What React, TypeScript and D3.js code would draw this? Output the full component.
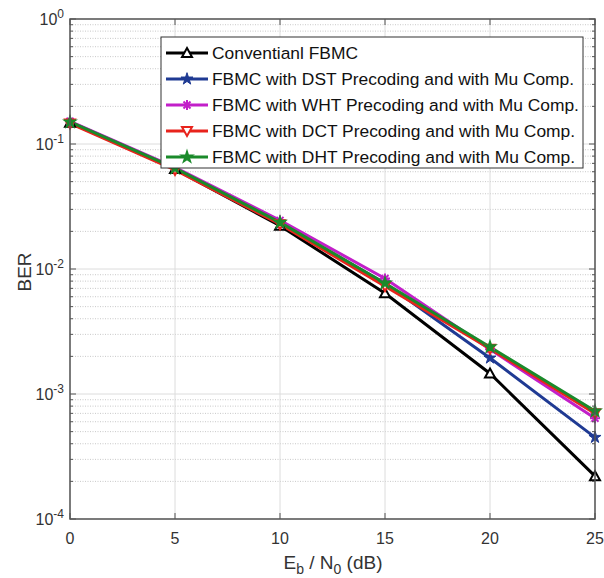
import React from 'react';
import * as d3 from 'd3';

const snr = [0, 5, 10, 15, 20, 25];
const berConv = [0.148, 0.063, 0.0222, 0.0064, 0.00146, 0.00022];
const berDst = [0.15, 0.064, 0.0232, 0.0077, 0.00194, 0.00045];
const berWht = [0.152, 0.065, 0.0245, 0.0084, 0.00228, 0.00064];
const berDct = [0.146, 0.062, 0.0228, 0.0073, 0.00230, 0.00070];
const berDht = [0.15, 0.064, 0.0236, 0.0077, 0.00238, 0.00073];

const seriesNames = [
  'Conventianl FBMC',
  'FBMC with DST Precoding and with Mu Comp.',
  'FBMC with WHT Precoding and with Mu Comp.',
  'FBMC with DCT Precoding and with Mu Comp.',
  'FBMC with DHT Precoding and with Mu Comp.',
];
const seriesColors = ['#000000', '#1f3a93', '#c21fc9', '#e8231c', '#1a8a2a'];
const seriesMarkers = ['triUp', 'hexagram', 'asterisk', 'triDown', 'star'];
const seriesValues = [berConv, berDst, berWht, berDct, berDht];

const xTicks = [0, 5, 10, 15, 20, 25];
const yDecades = [-4, -3, -2, -1, 0];

const W = 604;
const H = 578;
const left = 70;
const right = 595;
const top = 19;
const bottom = 519;

const Marker = ({ kind, color, x, y }: { kind: string; color: string; x: number; y: number }) => {
  const r = 5;
  if (kind === 'triUp') {
    return <path d={`M${x},${y - r}L${x + r},${y + r * 0.8}L${x - r},${y + r * 0.8}Z`} fill="white" stroke={color} strokeWidth={2} />;
  }
  if (kind === 'triDown') {
    return <path d={`M${x},${y + r}L${x + r},${y - r * 0.8}L${x - r},${y - r * 0.8}Z`} fill="white" stroke={color} strokeWidth={2} />;
  }
  if (kind === 'hexagram') {
    const p = d3.symbol(d3.symbolStar, 45)();
    return <path d={p || ''} transform={`translate(${x},${y})`} fill={color} stroke={color} strokeWidth={1} />;
  }
  if (kind === 'star') {
    const p = d3.symbol(d3.symbolStar, 40)();
    return <path d={p || ''} transform={`translate(${x},${y})`} fill={color} stroke={color} strokeWidth={1.5} />;
  }
  // asterisk
  const a = 5;
  return (
    <g stroke={color} strokeWidth={2}>
      <line x1={x - a} y1={y} x2={x + a} y2={y} />
      <line x1={x} y1={y - a} x2={x} y2={y + a} />
      <line x1={x - a * 0.7} y1={y - a * 0.7} x2={x + a * 0.7} y2={y + a * 0.7} />
      <line x1={x - a * 0.7} y1={y + a * 0.7} x2={x + a * 0.7} y2={y - a * 0.7} />
    </g>
  );
};

export default function App() {
  const x = d3.scaleLinear().domain([0, 25]).range([left, right]);
  const y = d3.scaleLog().domain([1e-4, 1]).range([bottom, top]);
  const line = d3
    .line<number>()
    .x((_, i) => x(snr[i]))
    .y((v) => y(v));

  const minor: number[] = [];
  for (let d = -4; d < 0; d++) {
    for (let m = 2; m <= 9; m++) minor.push(m * Math.pow(10, d));
  }

  const legX = 161;
  const legY = 37;
  const legW = 422;
  const legH = 131;
  const rowH = 26;

  return (
    <svg width={W} height={H} style={{ position: 'absolute', left: 0, top: 0, background: 'white' }} fontFamily="'Liberation Sans', Arial, sans-serif">
      <rect x={0} y={0} width={W} height={H} fill="white" />
      {/* grid */}
      {minor.map((v) => (
        <line key={'mg' + v} x1={left} x2={right} y1={y(v)} y2={y(v)} stroke="#c8c8c8" strokeWidth={1} strokeDasharray="1,1.5" />
      ))}
      {yDecades.map((d) => (
        <line key={'yg' + d} x1={left} x2={right} y1={y(Math.pow(10, d))} y2={y(Math.pow(10, d))} stroke="#dcdcdc" strokeWidth={1} />
      ))}
      {xTicks.map((t) => (
        <line key={'xg' + t} x1={x(t)} x2={x(t)} y1={top} y2={bottom} stroke="#dcdcdc" strokeWidth={1} />
      ))}
      {/* lines */}
      {seriesValues.map((vals, i) => (
        <path key={'l' + i} d={line(vals) || ''} fill="none" stroke={seriesColors[i]} strokeWidth={3} />
      ))}
      {seriesValues.map((vals, i) => (
        <g key={'m' + i}>
          {vals.map((v, j) => (
            <Marker key={j} kind={seriesMarkers[i]} color={seriesColors[i]} x={x(snr[j])} y={y(v)} />
          ))}
        </g>
      ))}
      {/* axes box */}
      <rect x={left} y={top} width={right - left} height={bottom - top} fill="none" stroke="#555" strokeWidth={1.5} />
      {xTicks.map((t) => (
        <g key={'xt' + t}>
          <line x1={x(t)} x2={x(t)} y1={bottom} y2={bottom - 6} stroke="#555" />
          <line x1={x(t)} x2={x(t)} y1={top} y2={top + 6} stroke="#555" />
          <text x={x(t)} y={544} textAnchor="middle" fontSize={16} fill="#333">{t}</text>
        </g>
      ))}
      {minor.map((v) => (
        <g key={'mt' + v}>
          <line x1={left} x2={left + 3} y1={y(v)} y2={y(v)} stroke="#555" />
          <line x1={right} x2={right - 3} y1={y(v)} y2={y(v)} stroke="#555" />
        </g>
      ))}
      {yDecades.map((d) => (
        <g key={'yt' + d}>
          <line x1={left} x2={left + 6} y1={y(Math.pow(10, d))} y2={y(Math.pow(10, d))} stroke="#555" />
          <line x1={right} x2={right - 6} y1={y(Math.pow(10, d))} y2={y(Math.pow(10, d))} stroke="#555" />
          <text x={left - 6} y={y(Math.pow(10, d)) + 6} textAnchor="end" fontSize={16} fill="#333">
            10<tspan dy={-7} fontSize={12}>{d}</tspan>
          </text>
        </g>
      ))}
      {/* axis labels */}
      <text transform="translate(31,272) rotate(-90)" textAnchor="middle" fontSize={19} fill="#333">BER</text>
      <text x={333} y={569} textAnchor="middle" fontSize={19} fill="#333">
        E<tspan dy={5} fontSize={14}>b</tspan><tspan dy={-5}> / N</tspan><tspan dy={5} fontSize={14}>0</tspan><tspan dy={-5}>  (dB)</tspan>
      </text>
      {/* legend */}
      <rect x={legX} y={legY} width={legW} height={legH} fill="white" stroke="#333" strokeWidth={1} />
      {seriesNames.map((name, i) => {
        const cy = legY + 16 + i * rowH;
        return (
          <g key={'lg' + i}>
            <line x1={legX + 5} x2={legX + 47} y1={cy} y2={cy} stroke={seriesColors[i]} strokeWidth={3} />
            <Marker kind={seriesMarkers[i]} color={seriesColors[i]} x={legX + 26} y={cy} />
            <text x={legX + 51} y={cy + 6} fontSize={17.4} fill="#111">{name}</text>
          </g>
        );
      })}
    </svg>
  );
}
